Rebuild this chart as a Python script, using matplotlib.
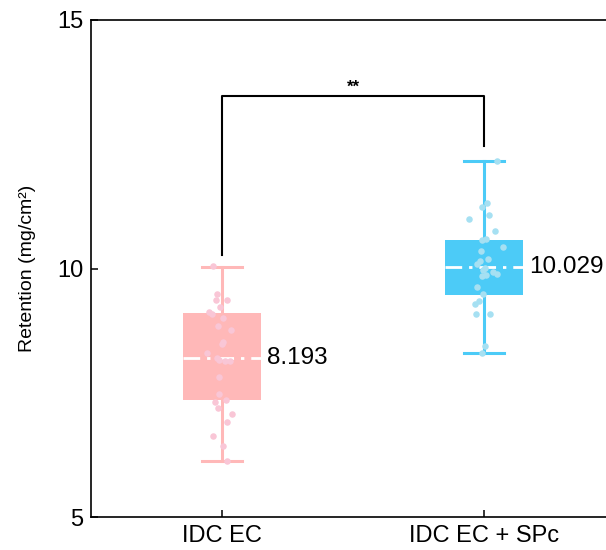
import numpy as np
import matplotlib
matplotlib.use("Agg")
import matplotlib.pyplot as plt

plt.rcParams['font.family'] = ['Liberation Sans', 'DejaVu Sans']

groups = ['IDC EC', 'IDC EC + SPc']
means = [8.193, 10.029]
q1 = [7.35, 9.47]
q3 = [9.11, 10.57]
whislo = [6.12, 8.30]
whishi = [10.03, 12.17]

# raw points (jitter offset in x-units, value)
pts1_x = [-0.033, -0.020, -0.024, 0.019, -0.008, -0.049, -0.038, 0.003, -0.014, 0.033,
          0.003, 0.000, -0.059, -0.020, -0.010, 0.011, 0.031, -0.011, -0.010, -0.027,
          0.014, -0.016, 0.038, 0.020, -0.036, 0.003, 0.018]
pts1_y = [10.05, 9.48, 9.36, 9.36, 9.23, 9.13, 9.09, 9.01, 8.84, 8.77,
          8.52, 8.48, 8.29, 8.20, 8.15, 8.13, 8.13, 7.81, 7.48, 7.31,
          7.35, 7.19, 7.08, 6.91, 6.63, 6.42, 6.12]
pts2_x = [0.049, 0.011, -0.008, 0.020, -0.056, 0.042, 0.006, -0.009, 0.074, -0.013,
          0.014, -0.015, -0.026, 0.004, -0.005, 0.036, 0.049, -0.008, 0.008, -0.026,
          -0.003, -0.018, -0.034, -0.031, 0.024, 0.002, -0.009]
pts2_y = [12.17, 11.31, 11.24, 11.08, 10.99, 10.75, 10.60, 10.57, 10.44, 10.36,
          10.20, 10.15, 10.09, 10.01, 9.96, 9.93, 9.88, 9.85, 9.86, 9.62,
          9.48, 9.34, 9.29, 9.09, 9.09, 8.45, 8.30]

box_colors = ['#FFB8B8', '#4CCBF7']
pt_colors = ['#F9C6D6', '#A6E0F2']

fig = plt.figure(figsize=(6.06, 5.5), dpi=100)
ax = fig.add_axes([91 / 606, 33 / 550, 524 / 606, 497 / 550])

pos = [1, 2]
stats = []
for i in range(2):
    stats.append(dict(med=means[i], q1=q1[i], q3=q3[i], whislo=whislo[i],
                      whishi=whishi[i], fliers=[], label=groups[i]))

for i in range(2):
    ax.bxp([stats[i]], positions=[pos[i]], widths=0.30, capwidths=0.155,
           patch_artist=True, showfliers=False,
           boxprops=dict(facecolor=box_colors[i], edgecolor=box_colors[i], linewidth=0),
           whiskerprops=dict(color=box_colors[i], linewidth=2.2),
           capprops=dict(color=box_colors[i], linewidth=2.2),
           medianprops=dict(color='white', linewidth=2, linestyle=(0, (6, 2.5, 1.2, 2.5))),
           zorder=2)

ax.scatter(np.array(pts1_x) + 1, pts1_y, s=22, color=pt_colors[0], zorder=3, linewidths=0)
ax.scatter(np.array(pts2_x) + 2, pts2_y, s=22, color=pt_colors[1], zorder=3, linewidths=0)

for i in range(2):
    ax.text(pos[i] + 0.172, means[i], '%.3f' % means[i], fontsize=17.5,
            ha='left', va='center')

# significance bracket
ax.plot([1, 1, 2, 2], [10.28, 13.47, 13.47, 12.47], color='black', linewidth=1.5)
ax.text(1.5, 13.5, '**', ha='center', va='bottom', fontsize=12, fontweight='bold')

ax.set_xlim(0.5, 2.5)
ax.set_ylim(5, 15)
ax.set_yticks([5, 10, 15])
ax.set_xticks(pos)
ax.set_xticklabels(groups)
ax.tick_params(axis='both', labelsize=17, direction='in', length=5, width=1.1, pad=5.5)
ax.set_ylabel('Retention (mg/cm²)', fontsize=14)
ax.yaxis.set_label_coords(-0.105, 0.5)
for s in ax.spines.values():
    s.set_linewidth(1.2)

fig.savefig('out.png', dpi=100)
